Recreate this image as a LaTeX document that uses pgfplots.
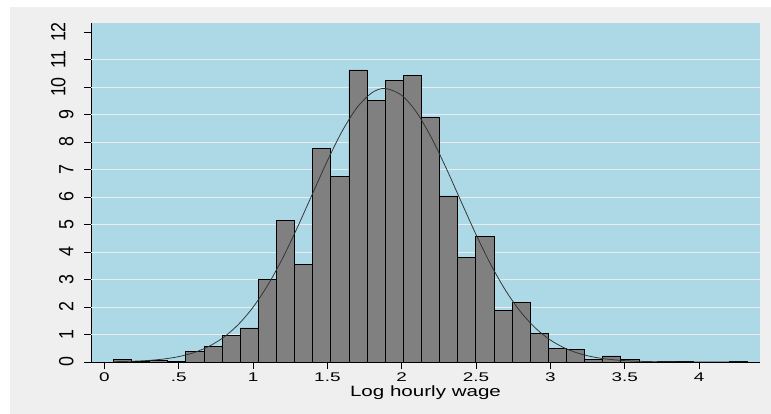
\documentclass[border=0pt]{standalone}
\usepackage{pgfplots}
\pgfplotsset{compat=1.18}
\usepackage{fontspec}
\setmainfont{Liberation Sans}
\newfontfamily\xfont[FakeStretch=1.5]{Liberation Sans}
\newfontfamily\xlfont[FakeStretch=1.38]{Liberation Sans}
\newfontfamily\yfont[FakeStretch=0.87]{Liberation Sans}
\definecolor{panel}{RGB}{239,239,239}
\definecolor{plotbg}{RGB}{173,216,230}
\definecolor{gridc}{RGB}{232,238,240}
\definecolor{barfill}{RGB}{128,128,128}
\definecolor{curvec}{RGB}{50,50,50}
\begin{document}
\begin{tikzpicture}[x=1pt,y=1pt]
\fill[white] (0,0) rectangle (771,414);
\fill[panel] (10,0) rectangle (771,407);
\begin{axis}[
  at={(91pt,52pt)}, anchor=south west,
  scale only axis, width=669pt, height=339.3pt,
  xmin=-0.09, xmax=4.41, ymin=0, ymax=12.34,
  axis background/.style={fill=plotbg},
  axis x line=bottom, axis y line=left,
  axis line style={-, black, line width=0.8pt},
  tick align=outside,
  /pgf/number format/assume math mode=true,
  xtick={0,0.5,1,1.5,2,2.5,3,3.5,4},
  xticklabels={0,.5,1,1.5,2,2.5,3,3.5,4},
  ytick={0,1,...,12},
  yticklabels={0,1,2,3,4,5,6,7,8,9,\raisebox{8pt}{10},\raisebox{8pt}{11},\raisebox{8pt}{12}},
  extra y ticks={1,2,...,11},
  extra y tick labels={},
  extra y tick style={grid=major, major tick length=0pt, grid style={gridc, line width=0.9pt}},
  major tick length=7pt,
  tick style={black, line width=0.7pt},
  xticklabel style={font=\xfont\fontsize{12.6}{14}\selectfont, anchor=north, text=black},
  yticklabel style={font=\yfont\fontsize{20.5}{22}\selectfont, rotate=90, anchor=south, text=black},
  yticklabel shift=7pt,
  xlabel={Log hourly wage},
  xlabel style={font=\xlfont\fontsize{14.9}{16}\selectfont, at={(axis description cs:0.5,0)}, anchor=base, yshift=-35pt},
]
\addplot[ybar interval, fill=barfill, draw=black, line width=0.8pt] coordinates {
(0.0606,0.10) (0.1825,0.02) (0.3044,0.05) (0.4263,0.03) (0.5482,0.39)
(0.6701,0.57) (0.7920,0.97) (0.9139,1.24) (1.0358,2.99) (1.1577,5.16)
(1.2796,3.55) (1.4015,7.76) (1.5234,6.75) (1.6453,10.62) (1.7672,9.52)
(1.8891,10.24) (2.0110,10.41) (2.1329,8.88) (2.2548,6.04) (2.3767,3.81)
(2.4986,4.58) (2.6205,1.88) (2.7424,2.15) (2.8643,1.03) (2.9862,0.49)
(3.1081,0.44) (3.2300,0.08) (3.3519,0.22) (3.4738,0.10) (3.5957,0)
(3.7176,0.03) (3.8395,0.03) (3.9614,0) (4.0833,0) (4.2052,0.03)
(4.3271,0.03)
};
\addplot[curvec, line width=0.75pt, smooth, no markers] coordinates {
(0.06,0.011) (0.1,0.015) (0.2,0.030) (0.3,0.058) (0.4,0.109) (0.5,0.195)
(0.6,0.337) (0.7,0.559) (0.8,0.889) (0.9,1.358) (1.0,1.991) (1.1,2.803)
(1.2,3.787) (1.3,4.914) (1.4,6.120) (1.5,7.318) (1.6,8.401) (1.7,9.258)
(1.8,9.794) (1.888,9.950) (2.0,9.698) (2.1,9.079) (2.2,8.157) (2.3,7.038)
(2.4,5.828) (2.5,4.634) (2.6,3.536) (2.7,2.591) (2.8,1.823) (2.9,1.231)
(3.0,0.798) (3.1,0.497) (3.2,0.297) (3.3,0.170) (3.4,0.094) (3.5,0.050)
(3.6,0.025) (3.7,0.012) (3.8,0.006) (3.9,0.003) (4.0,0.001) (4.1,0.0005)
(4.2,0.0002) (4.33,0.0001)
};
\end{axis}
\pgfresetboundingbox
\useasboundingbox (0,0) rectangle (771,414);
\end{tikzpicture}
\end{document}
